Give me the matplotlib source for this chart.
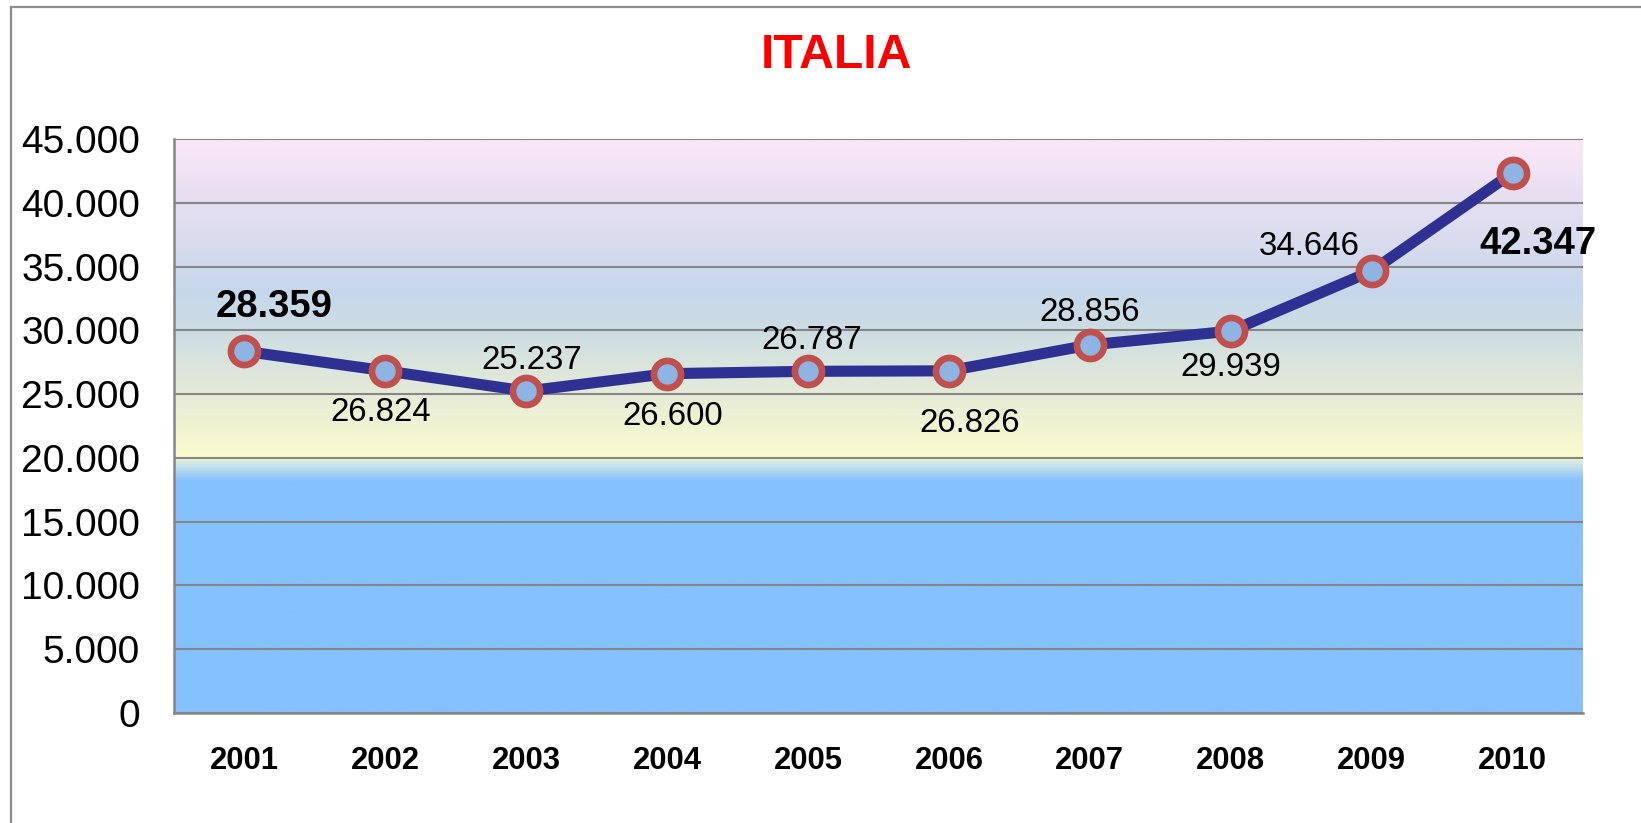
import matplotlib
matplotlib.use('Agg')
import matplotlib.pyplot as plt
import numpy as np
from matplotlib.colors import LinearSegmentedColormap
from matplotlib.patches import Rectangle
from matplotlib.ticker import FuncFormatter

plt.rcParams['font.family'] = ['Liberation Sans', 'DejaVu Sans']

# data
years = ['2001', '2002', '2003', '2004', '2005', '2006', '2007', '2008', '2009', '2010']
values = [28359, 26824, 25237, 26600, 26787, 26826, 28856, 29939, 34646, 42347]
labels = ['28.359', '26.824', '25.237', '26.600', '26.787', '26.826', '28.856', '29.939', '34.646', '42.347']
bold_labels = [True, False, False, False, False, False, False, False, False, True]
# label offsets in points (dx, dy)
offsets = [(21, 32), (-3, -30), (4, 22), (4, -31), (3, 22), (15, -38), (0, 23), (0, -26), (-45, 18), (18, -51)]

ymax = 45000

fig = plt.figure(figsize=(16.41, 8.23), dpi=100)
ax = fig.add_axes([174 / 1641, 1 - 713 / 823, 1409 / 1641, 574 / 823])

# background gradient of the plot area
stops = [(0, '#85C1FF'), (18200, '#85C1FF'), (19900, '#E5F0DD'), (20000, '#FAFCCC'),
         (25000, '#E6EBD8'), (30000, '#CCDDE3'), (33000, '#C6D7EB'), (37000, '#D8DCEE'),
         (41000, '#E8E0F2'), (45000, '#FAE8F8')]
cmap = LinearSegmentedColormap.from_list('bg', [(v / ymax, c) for v, c in stops])
grad = np.linspace(0, 1, 1000).reshape(-1, 1)
ax.imshow(grad, cmap=cmap, aspect='auto', origin='lower',
          extent=[-0.5, len(years) - 0.5, 0, ymax], zorder=0, interpolation='bilinear')

x = np.arange(len(years))
ax.plot(x, values, color='#2E3192', lw=8, zorder=3, solid_capstyle='round',
        marker='o', ms=19.5, mfc='#8DB4E2', mec='#C0504D', mew=4.8)

for i in range(len(years)):
    ax.annotate(labels[i], (x[i], values[i]), xytext=offsets[i], textcoords='offset points',
                ha='center', va='center', fontsize=27.5 if bold_labels[i] else 23.8,
                fontweight='bold' if bold_labels[i] else 'normal', color='black', zorder=4)

ax.set_xlim(-0.5, len(years) - 0.5)
ax.set_ylim(0, ymax)
ax.set_yticks(np.arange(0, ymax + 1, 5000))
ax.yaxis.set_major_formatter(FuncFormatter(lambda v, p: f'{int(v):,}'.replace(',', '.')))
ax.set_xticks(x)
ax.set_xticklabels(years, fontweight='bold', fontsize=22.3)
ax.tick_params(axis='y', labelsize=28, length=0, pad=24.5)
ax.tick_params(axis='x', length=0, pad=24)
ax.grid(axis='y', color='#868686', lw=1.5, zorder=1)
ax.set_axisbelow(False)
for s in ['top', 'right']:
    ax.spines[s].set_visible(False)
for s in ['left', 'bottom']:
    ax.spines[s].set_color('#868686')
    ax.spines[s].set_linewidth(1.8)
    ax.spines[s].set_zorder(2)

fig.text(836 / 1641, 1 - 56 / 823, 'ITALIA', color='#FF0000', fontsize=34.7,
         fontweight='bold', ha='center', va='center')

# outer chart border (cut off at right and bottom)
fig.patches.append(Rectangle((11 / 1641, -0.1), 1.2, 1 - 7 / 823 + 0.1, transform=fig.transFigure,
                             fill=False, edgecolor='#8C8C8C', lw=1.6))

fig.savefig('out.png', dpi=100)
